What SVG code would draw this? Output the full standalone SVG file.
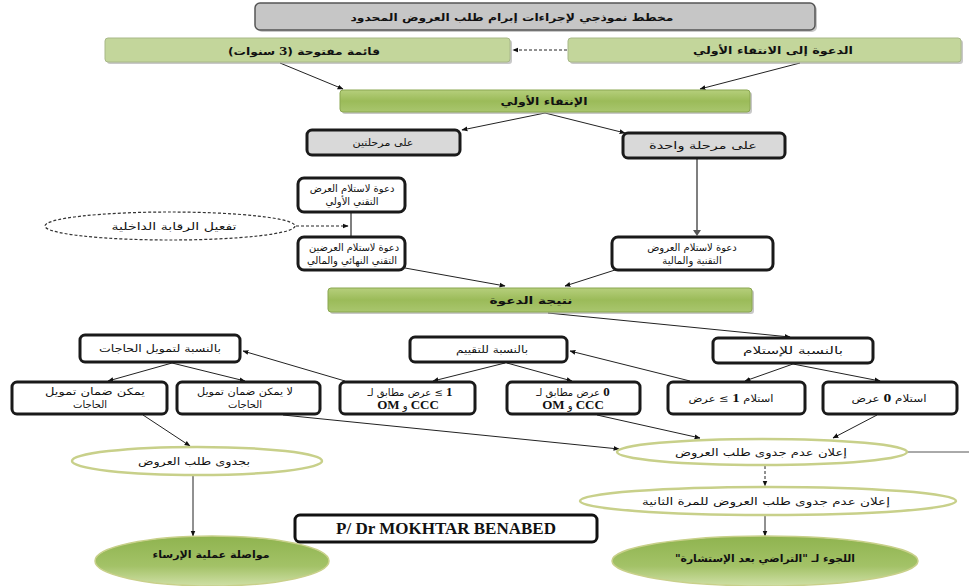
<svg xmlns="http://www.w3.org/2000/svg" width="969" height="586" viewBox="0 0 969 586">
<defs>
<marker id="ah" viewBox="0 0 10 10" refX="9" refY="5" markerWidth="6" markerHeight="6" orient="auto-start-reverse"><path d="M0,1 L10,5 L0,9 z" fill="#111"/></marker>
<linearGradient id="gG" x1="0" y1="0" x2="0" y2="1"><stop offset="0" stop-color="#b6cf7c"/><stop offset="0.5" stop-color="#9bbb59"/><stop offset="1" stop-color="#a9c66e"/></linearGradient>
<linearGradient id="gE" x1="0" y1="0" x2="0" y2="1"><stop offset="0" stop-color="#8fb34f"/><stop offset="0.6" stop-color="#a3c267"/><stop offset="1" stop-color="#cfe0a6"/></linearGradient>
<style>
.sh{fill:#9a9a9a;opacity:.55}
.gbox{fill:#d9d9d9;stroke:#1a1a1a;stroke-width:3}
.wbox{fill:#fff;stroke:#1a1a1a;stroke-width:3}
.lg{fill:#c3d69b;stroke:#a8b888;stroke-width:1}
.dg{fill:url(#gG);stroke:#8aa650;stroke-width:1}
.el{fill:#fff;stroke:#c8d08a;stroke-width:2.5}
.eg{fill:url(#gE);stroke:#c8d08a;stroke-width:1.5}
.t{font-family:"DejaVu Sans",sans-serif;font-size:10px;direction:rtl;text-anchor:middle;fill:#111}
.b{font-weight:bold}
.n{font-family:"Liberation Serif",serif;font-weight:bold;font-size:13px}
.c{stroke:#222;stroke-width:1;fill:none;marker-end:url(#ah)}
.d{stroke-dasharray:3,2}
.v{stroke:#7f7f7f;stroke-width:2;fill:none}
</style>
</defs>
<g id="connectors">
<line class="c d" x1="567" y1="50" x2="513" y2="50"/>
<line class="c" x1="280" y1="63" x2="343" y2="89"/>
<line class="c" x1="800" y1="63" x2="700" y2="89"/>
<line class="c" x1="545" y1="113" x2="462" y2="130"/>
<line class="c" x1="545" y1="113" x2="625" y2="133"/>
<line class="v" x1="697" y1="159" x2="697" y2="230"/>
<path d="M693,230 L701,230 L697,236 z" fill="#555"/>
<line class="v" x1="351" y1="213" x2="351" y2="237"/>
<line class="c d" x1="296" y1="226" x2="348" y2="226"/>
<line class="c" x1="405" y1="268" x2="505" y2="286"/>
<line class="c" x1="615" y1="270" x2="565" y2="286"/>
<line class="c" x1="548" y1="313" x2="790" y2="337"/>
<line class="c" x1="793" y1="364" x2="745" y2="381"/>
<line class="c" x1="793" y1="364" x2="880" y2="381"/>
<line class="c" x1="690" y1="381" x2="570" y2="351"/>
<line class="c" x1="507" y1="363" x2="572" y2="381"/>
<line class="c" x1="505" y1="363" x2="433" y2="381"/>
<line class="c" x1="345" y1="381" x2="243" y2="351"/>
<line class="c" x1="172" y1="363" x2="108" y2="381"/>
<line class="c" x1="172" y1="363" x2="245" y2="381"/>
<line class="c" x1="143" y1="415" x2="190" y2="446"/>
<line class="c" x1="283" y1="415" x2="619" y2="449"/>
<line class="c" x1="597" y1="415" x2="700" y2="438"/>
<line class="c" x1="877" y1="415" x2="833" y2="438"/>
<line x1="907" y1="452" x2="969" y2="452" stroke="#555" stroke-width="1"/>
<line class="c d" x1="765" y1="466" x2="765" y2="486"/>
<line class="c" x1="765" y1="516" x2="765" y2="536"/>
<line class="c" x1="193" y1="476" x2="193" y2="536"/>
</g>
<g id="title">
<rect x="257" y="5" width="560" height="27" rx="5" class="sh"/>
<rect x="255" y="3" width="560" height="27" rx="5" fill="#c6c6c6" stroke="#555" stroke-width="1.5"/>
<text x="512" y="21" class="t b" font-size="12" textLength="323" lengthAdjust="spacingAndGlyphs">مخطط نموذجي لإجراءات إبرام طلب العروض المحدود</text>
</g>
<g id="n-list">
<rect x="107" y="40" width="405" height="24" rx="3" class="sh"/>
<rect x="105" y="38" width="405" height="24" rx="3" class="lg"/>
<text x="304" y="55" class="t b" font-size="11.5" textLength="152" lengthAdjust="spacingAndGlyphs">قائمة مفتوحة (<tspan class="n" font-size="14">3</tspan> سنوات)</text>
</g>
<g id="n-invite">
<rect x="570" y="40" width="393" height="24" rx="3" class="sh"/>
<rect x="568" y="38" width="393" height="24" rx="3" class="lg"/>
<text x="773" y="54" class="t b" font-size="11.5" textLength="160" lengthAdjust="spacingAndGlyphs">الدعوة إلى الانتقاء الأولي</text>
</g>
<g id="n-preselect">
<rect x="342" y="92" width="410" height="22" rx="3" class="sh"/>
<rect x="340" y="90" width="410" height="22" rx="3" class="dg"/>
<text x="544" y="105" class="t b" font-size="11.5" textLength="87" lengthAdjust="spacingAndGlyphs">الإنتقاء الأولي</text>
</g>
<g id="n-two">
<rect x="307" y="130" width="153" height="25" rx="5" class="gbox"/>
<text x="383" y="146" class="t" textLength="61" lengthAdjust="spacingAndGlyphs">على مرحلتين</text>
</g>
<g id="n-one">
<rect x="623" y="133" width="162" height="25" rx="5" class="gbox"/>
<text x="703" y="149" class="t" textLength="108" lengthAdjust="spacingAndGlyphs">على مرحلة واحدة</text>
</g>
<g id="n-tech1">
<rect x="298" y="178" width="107" height="34" rx="6" class="wbox"/>
<text x="352" y="192" class="t" font-size="8.5">دعوة لاستلام العرض</text>
<text x="352" y="205" class="t" font-size="8.5">التقني الأولي</text>
</g>
<g id="n-control">
<ellipse cx="170" cy="226" rx="125" ry="14" fill="#fff" stroke="#333" stroke-width="1.2" stroke-dasharray="3,2"/>
<text x="174" y="230" class="t" font-size="10.5" textLength="125" lengthAdjust="spacingAndGlyphs">تفعيل الرقابة الداخلية</text>
</g>
<g id="n-tech2">
<rect x="298" y="237" width="107" height="33" rx="6" class="wbox"/>
<text x="354" y="251" class="t" font-size="8.5" textLength="90" lengthAdjust="spacingAndGlyphs">دعوة لاستلام العرضين</text>
<text x="352" y="264" class="t" font-size="8.5">التقني النهائي والمالي</text>
</g>
<g id="n-offers">
<rect x="612" y="237" width="161" height="33" rx="6" class="wbox"/>
<text x="692" y="251" class="t" font-size="9.5">دعوة لاستلام العروض</text>
<text x="692" y="264" class="t" font-size="9.5">التقنية والمالية</text>
</g>
<g id="n-result">
<rect x="330" y="290" width="424" height="24" rx="3" class="sh"/>
<rect x="328" y="288" width="424" height="24" rx="3" class="dg"/>
<text x="531" y="304" class="t b" font-size="11" textLength="83" lengthAdjust="spacingAndGlyphs">نتيجة الدعوة</text>
</g>
<g id="n-reception">
<rect x="713" y="338" width="160" height="25" rx="5" class="wbox"/>
<text x="793" y="354" class="t" textLength="100" lengthAdjust="spacingAndGlyphs">بالنسبة للإستلام</text>
</g>
<g id="n-eval">
<rect x="410" y="337" width="157" height="25" rx="5" class="wbox"/>
<text x="492" y="353" class="t" textLength="72" lengthAdjust="spacingAndGlyphs">بالنسبة للتقييم</text>
</g>
<g id="n-funding">
<rect x="80" y="335" width="160" height="27" rx="5" class="wbox"/>
<text x="160" y="352" class="t" textLength="122" lengthAdjust="spacingAndGlyphs">بالنسبة لتمويل الحاجات</text>
</g>
<g id="n-can">
<rect x="12" y="382" width="155" height="32" rx="5" class="wbox"/>
<text x="95" y="395" class="t" textLength="100" lengthAdjust="spacingAndGlyphs">يمكن ضمان تمويل</text>
<text x="90" y="408" class="t">الحاجات</text>
</g>
<g id="n-cannot">
<rect x="177" y="382" width="143" height="32" rx="5" class="wbox"/>
<text x="245" y="395" class="t" textLength="96" lengthAdjust="spacingAndGlyphs">لا يمكن ضمان تمويل</text>
<text x="245" y="408" class="t">الحاجات</text>
</g>
<g id="n-conf1">
<rect x="340" y="382" width="135" height="32" rx="5" class="wbox"/>
<text x="410" y="396" class="t" font-size="10.5"><tspan class="n">1</tspan> ≥ عرض مطابق لـ</text>
<text x="408" y="409" class="t"><tspan class="n">CCC</tspan> و <tspan class="n">OM</tspan></text>
</g>
<g id="n-conf0">
<rect x="507" y="382" width="133" height="32" rx="5" class="wbox"/>
<text x="573" y="396" class="t" font-size="10.5"><tspan class="n">0</tspan> عرض مطابق لـ</text>
<text x="573" y="409" class="t"><tspan class="n">CCC</tspan> و <tspan class="n">OM</tspan></text>
</g>
<g id="n-rec1">
<rect x="668" y="382" width="137" height="32" rx="5" class="wbox"/>
<text x="731" y="402" class="t" textLength="85" lengthAdjust="spacingAndGlyphs">استلام <tspan class="n">1</tspan> ≥ عرض</text>
</g>
<g id="n-rec0">
<rect x="823" y="382" width="134" height="32" rx="5" class="wbox"/>
<text x="889" y="402" class="t" textLength="75" lengthAdjust="spacingAndGlyphs">استلام <tspan class="n">0</tspan> عرض</text>
</g>
<g id="n-fruitful">
<ellipse cx="197" cy="461" rx="125" ry="14" class="el"/>
<text x="194" y="465" class="t" textLength="112" lengthAdjust="spacingAndGlyphs">بجدوى طلب العروض</text>
</g>
<g id="n-unfruitful">
<ellipse cx="762" cy="452" rx="145" ry="13" class="el"/>
<text x="761" y="456" class="t" textLength="172" lengthAdjust="spacingAndGlyphs">إعلان عدم جدوى طلب العروض</text>
</g>
<g id="n-unfruitful2">
<ellipse cx="768" cy="501" rx="188" ry="14" class="el"/>
<text x="766" y="505" class="t" textLength="248" lengthAdjust="spacingAndGlyphs">إعلان عدم جدوى طلب العروض للمرة الثانية</text>
</g>
<g id="n-award">
<ellipse cx="212" cy="561" rx="117" ry="25" class="eg"/>
<text x="211" y="558" class="t b" textLength="117" lengthAdjust="spacingAndGlyphs">مواصلة عملية الإرساء</text>
</g>
<g id="n-negotiation">
<ellipse cx="765" cy="561" rx="153" ry="25" class="eg"/>
<text x="765" y="562" class="t b" textLength="180" lengthAdjust="spacingAndGlyphs">اللجوء لـ "التراضي بعد الإستشارة"</text>
</g>
<g id="n-author">
<rect x="295" y="515" width="302" height="27" rx="5" fill="#fff" stroke="#111" stroke-width="3"/>
<text x="446" y="534" font-family="Liberation Serif, serif" font-weight="bold" font-size="17" text-anchor="middle" fill="#111">P/ Dr MOKHTAR BENABED</text>
</g>
</svg>
